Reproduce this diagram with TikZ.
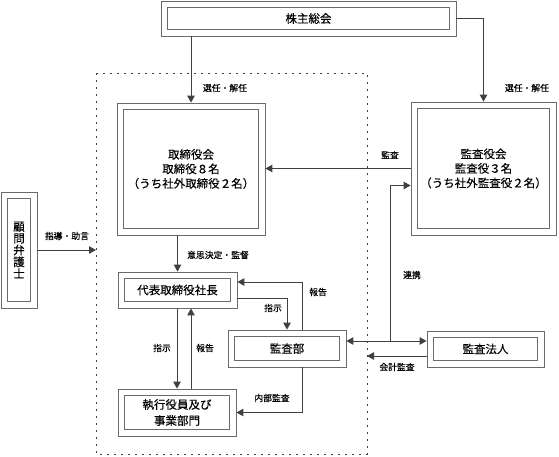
\documentclass[tikz,border=0pt]{standalone}
\usepackage{fontspec}
\setmainfont{Noto Sans CJK JP}[FakeBold=0.35]
\usetikzlibrary{arrows.meta}
\definecolor{frame}{HTML}{6A6A6A}
\definecolor{wire}{HTML}{404040}
\newcommand{\innerframe}[1]{%
  \draw[frame, line width=0.8pt]
  ([shift={(7pt,-7pt)}]#1.north west) rectangle ([shift={(-7pt,7pt)}]#1.south east);}
\tikzset{
  dblbox/.style={draw=frame, line width=0.8pt, inner sep=0pt, align=center,
    font=\fontsize{11.5}{14.5}\selectfont},
  arr/.style={draw=wire, line width=0.9pt, -{Triangle[length=7pt,width=7.5pt]}},
  arrboth/.style={draw=wire, line width=0.9pt,
    {Triangle[length=7pt,width=7.5pt]}-{Triangle[length=7pt,width=7.5pt]}},
  lbl/.style={font=\fontsize{8.8}{10}\selectfont, inner sep=0pt},
  dotbox/.style={draw=wire, line width=0.9pt, dash pattern=on 1.8pt off 5.2pt},
}

\begin{document}
\begin{tikzpicture}[x=1pt, y=-1pt]
  \useasboundingbox (0,0) rectangle (559,456);

  % the dotted frame round the company
  \coordinate (dl) at (96,73);
  \coordinate (dr) at (367,454);
  \draw[dotbox] (dl) rectangle (dr);

  % boxes
  \node[dblbox, minimum width=295pt, minimum height=35pt] (soukai) at (308.5,18.5) {株主総会};
  \node[dblbox, minimum width=148pt, minimum height=132pt] (torishimari) at (191,169)
    {取締役会\\取締役８名\\（うち社外取締役２名）};
  \node[dblbox, minimum width=145pt, minimum height=133pt] (kansayaku) at (483.5,168.5)
    {監査役会\\監査役３名\\（うち社外監査役２名）};
  \node[dblbox, minimum width=36pt, minimum height=116pt,
    font=\fontsize{11.5}{11.8}\selectfont] (komon) at (19,250) {顧\\問\\弁\\護\\士};
  \node[dblbox, minimum width=119pt, minimum height=36pt] (shacho) at (177.5,290) {代表取締役社長};
  \node[dblbox, minimum width=118pt, minimum height=37pt] (kansabu) at (287,348.5) {監査部};
  \node[dblbox, minimum width=118pt, minimum height=47pt,
    font=\fontsize{11.5}{16}\selectfont] (shikkou) at (177,412.5) {執行役員及び\\事業部門};
  \node[dblbox, minimum width=117pt, minimum height=36pt] (hojin) at (485.5,349) {監査法人};
  \coordinate (renkei) at (390,341);

  % inner frames
  \innerframe{soukai}
  \innerframe{torishimari}
  \innerframe{kansayaku}
  \innerframe{komon}
  \innerframe{shacho}
  \innerframe{kansabu}
  \innerframe{shikkou}
  \innerframe{hojin}

  % connectors
  \draw[arr] (soukai.south -| torishimari.north) -- (torishimari.north);
  \draw[arr] (soukai.east) -| (kansayaku.north);
  \draw[arr] (kansayaku.west) -- (kansayaku.west -| torishimari.east);
  \draw[arr] (komon.east) -- (komon.east -| dl);
  \draw[arr] (torishimari.south -| shacho.north) -- (shacho.north);
  \draw[arr] ([xshift=15pt]kansabu.north) |- ([yshift=8pt]shacho.east);
  \draw[arr] ([yshift=-8pt]shacho.east) -| (kansabu.north);
  \draw[arr] ([xshift=-0.5pt]shacho.south) -- ([xshift=-0.5pt]shacho.south |- shikkou.north);
  \draw[arr] ([xshift=14pt]shikkou.north) -- ([xshift=14pt]shikkou.north |- shacho.south);
  \draw[arr] ([xshift=15pt]kansabu.south) |- (shikkou.east);
  \draw[arrboth] ([yshift=7.5pt]kansabu.east) -- ([yshift=7.5pt]kansabu.east -| hojin.west);
  \draw[arr] (renkei) |- ([yshift=-17pt]kansayaku.west);
  \draw[arr] ([yshift=-7pt]hojin.west) -- ([yshift=-7pt]hojin.west -| dr);

  % labels
  \node[lbl] (l1) at (225,88) {選任・解任};
  \node[lbl] (l2) at (527,88) {選任・解任};
  \node[lbl] (l3) at (390,155) {監査};
  \node[lbl] (l4) at (67,236) {指導・助言};
  \node[lbl] (l5) at (218,255) {意思決定・監督};
  \node[lbl] (l6) at (318,292) {報告};
  \node[lbl] (l7) at (273,308) {指示};
  \node[lbl] (l8) at (162,348) {指示};
  \node[lbl] (l9) at (205,348) {報告};
  \node[lbl] (l10) at (272,398) {内部監査};
  \node[lbl] (l11) at (412,275) {連携};
  \node[lbl] (l12) at (397,367) {会計監査};
\end{tikzpicture}
\end{document}
